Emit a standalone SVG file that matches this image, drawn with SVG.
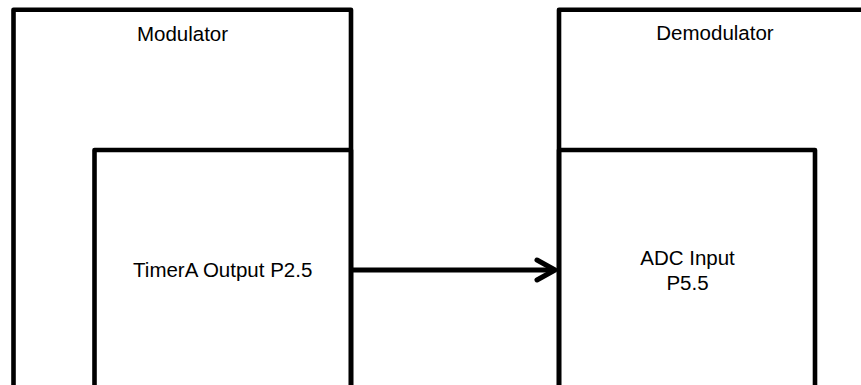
<svg xmlns="http://www.w3.org/2000/svg" width="861" height="385" viewBox="0 0 861 385">
<style>
.box{fill:none;stroke:#000;stroke-width:4.6;stroke-linejoin:round}
.lbl{font-family:"Liberation Sans",Arial,sans-serif;font-size:20.5px;fill:#000;text-anchor:middle}
.conn{fill:none;stroke:#000;stroke-width:5}
</style>
<defs>
<marker id="chev" markerUnits="userSpaceOnUse" viewBox="-25 -15 30 30" refX="0" refY="0" markerWidth="30" markerHeight="30" orient="auto">
<path d="M-18,-10 L0,0 L-18,10" fill="none" stroke="#000" stroke-width="5" stroke-linecap="round" stroke-linejoin="round"/>
</marker>
</defs>
<rect width="861" height="385" fill="#fff"/>
<g id="modulator">
<rect class="box" x="13.5" y="9.8" width="337.5" height="400"/>
<text class="lbl" x="182.5" y="41">Modulator</text>
</g>
<g id="timerA">
<rect class="box" x="94.5" y="150" width="256.5" height="260"/>
<text class="lbl" x="222.7" y="277">TimerA Output P2.5</text>
</g>
<g id="demodulator">
<rect class="box" x="559" y="9.8" width="320" height="400"/>
<text class="lbl" x="715" y="40">Demodulator</text>
</g>
<g id="adc">
<rect class="box" x="559" y="150" width="256" height="260"/>
<text class="lbl" x="687.5" y="265">ADC Input</text>
<text class="lbl" x="687.5" y="290">P5.5</text>
</g>
<g id="connectors">
<line class="conn" x1="351" y1="270" x2="555" y2="270" marker-end="url(#chev)"/>
</g>
</svg>
